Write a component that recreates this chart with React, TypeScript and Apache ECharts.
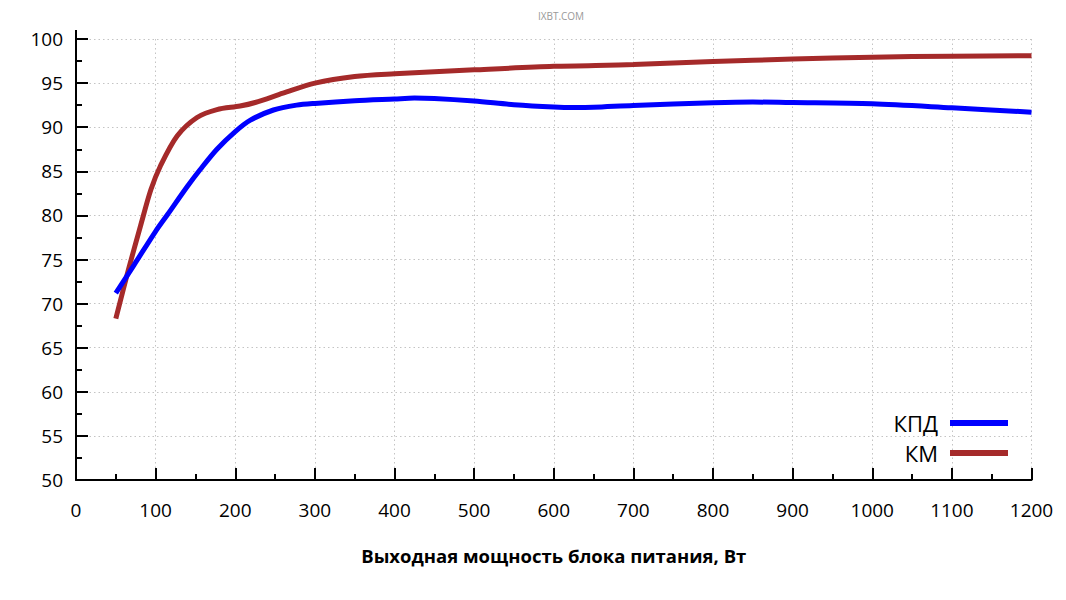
import React, { useEffect, useRef } from "react";
import * as echarts from "echarts";

const kpdX = [50, 73, 100, 115, 140, 156, 177, 200, 219, 248, 277, 300, 350, 400, 425, 450, 500, 550, 600, 625, 650, 700, 800, 850, 900, 1000, 1100, 1200];
const kpdY = [71.2, 74.4, 78.2, 80.1, 83.3, 85.2, 87.5, 89.5, 90.8, 91.95, 92.5, 92.7, 93.0, 93.2, 93.3, 93.25, 92.96, 92.55, 92.28, 92.22, 92.25, 92.47, 92.77, 92.85, 92.8, 92.66, 92.2, 91.7];

const kmX = [50, 66, 81, 94, 106, 127, 152, 177, 206, 225, 260, 300, 350, 400, 500, 600, 700, 800, 900, 1000, 1100, 1200];
const kmY = [68.3, 73.9, 78.8, 82.9, 85.6, 89.0, 91.1, 92.0, 92.4, 92.8, 93.85, 95.0, 95.75, 96.05, 96.5, 96.9, 97.1, 97.45, 97.72, 97.94, 98.05, 98.1];

const seriesNames = ["КПД", "КМ"];
const xAxisTitle = "Выходная мощность блока питания, Вт";
const watermark = "IXBT.COM";

const FONT = "'Open Sans', 'Noto Sans', sans-serif";

export default function App() {
  const ref = useRef<HTMLDivElement>(null);
  useEffect(() => {
    if (!ref.current) return;
    const chart = echarts.init(ref.current, undefined, { renderer: "svg" });
    const grid = { left: 76, top: 39, width: 955.5, height: 441 };
    const dotted = { color: "#c4c4c4", width: 1, type: [1.5, 3] as any };
    chart.setOption({
      animation: false,
      backgroundColor: "#ffffff",
      grid: { ...grid, containLabel: false },
      title: {
        text: watermark,
        left: 556,
        top: 6,
        textAlign: "center",
        textStyle: { fontSize: 10, color: "#999999", fontWeight: "normal", fontFamily: FONT },
      },
      legend: {
        orient: "vertical",
        align: "right",
        right: 58,
        top: 412,
        padding: 0,
        itemWidth: 58,
        itemHeight: 6,
        itemGap: 8,
        icon: "rect",
        data: seriesNames,
        textStyle: { fontSize: 22, color: "#000", fontFamily: FONT, padding: [0, 7, 0, 0] },
      },
      xAxis: {
        type: "value",
        min: 0,
        max: 1200,
        interval: 100,
        name: xAxisTitle,
        nameLocation: "middle",
        nameGap: 66,
        nameTextStyle: { fontSize: 18.5, fontWeight: "bold", color: "#000", fontFamily: FONT },
        axisLine: { show: true, onZero: false, lineStyle: { color: "#000", width: 2 } },
        axisTick: { show: true, inside: true, length: 12, lineStyle: { color: "#000", width: 2 } },
        minorTick: { show: true, splitNumber: 2, length: 6, lineStyle: { color: "#000", width: 2 } },
        axisLabel: { fontSize: 19, color: "#000", margin: 20, fontFamily: FONT, formatter: (v: number) => String(v) },
        splitLine: { show: true, lineStyle: dotted },
      },
      yAxis: {
        type: "value",
        min: 50,
        max: 100,
        interval: 5,
        axisLine: { show: true, onZero: false, lineStyle: { color: "#000", width: 2 } },
        axisTick: { show: true, inside: true, length: 12, lineStyle: { color: "#000", width: 2 } },
        minorTick: { show: true, splitNumber: 2, length: 6, lineStyle: { color: "#000", width: 2 } },
        axisLabel: { fontSize: 19, color: "#000", margin: 13, fontFamily: FONT, formatter: (v: number) => String(v) },
        splitLine: { show: true, lineStyle: dotted },
      },
      graphic: [
        {
          type: "line",
          shape: { x1: 76, y1: 30, x2: 76, y2: 39 },
          style: { stroke: "#000", lineWidth: 2 },
        },
      ],
      series: [
        {
          name: seriesNames[0],
          type: "line",
          smooth: 0.3,
          symbol: "none",
          data: kpdX.map((x, i) => [x, kpdY[i]]),
          lineStyle: { color: "#0000ff", width: 5 },
          itemStyle: { color: "#0000ff" },
          z: 3,
        },
        {
          name: seriesNames[1],
          type: "line",
          smooth: 0.3,
          symbol: "none",
          data: kmX.map((x, i) => [x, kmY[i]]),
          lineStyle: { color: "#a52a2a", width: 5 },
          itemStyle: { color: "#a52a2a" },
          z: 2,
        },
      ],
    });
    return () => chart.dispose();
  }, []);
  return (
    <div
      ref={ref}
      style={{ position: "absolute", left: 0, top: 0, width: 1066, height: 600 }}
    />
  );
}
